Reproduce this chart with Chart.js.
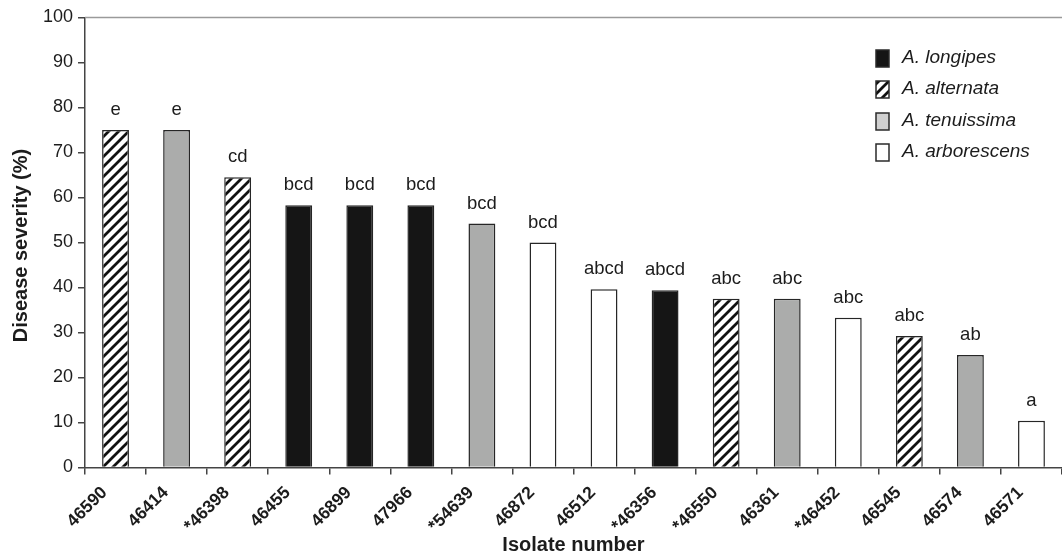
<!DOCTYPE html>
<html>
<head>
<meta charset="utf-8">
<script src="https://cdn.jsdelivr.net/npm/chart.js@4.4.1/dist/chart.umd.min.js"></script>
<style>
  html, body { margin: 0; padding: 0; background: #ffffff; }
  #wrap { width: 1062px; height: 556px; position: relative; }
</style>
</head>
<body>
<div id="wrap"><canvas id="chart" width="1062" height="556"></canvas></div>
<script>
// Isolates, in the order plotted
const isolates = ['46590', '46414', '*46398', '46455', '46899', '47966', '*54639', '46872',
                  '46512', '*46356', '*46550', '46361', '*46452', '46545', '46574', '46571'];
// Disease severity (%) per isolate
const severity = [75, 75, 64.5, 58.3, 58.3, 58.3, 54.2, 50, 39.6, 39.4, 37.5, 37.5, 33.3, 29.2, 25, 10.4];
// Species of each isolate (index into speciesNames)
const speciesOf = [1, 2, 1, 0, 0, 0, 2, 3, 3, 0, 1, 2, 3, 1, 2, 3];
// Significance group letters shown above the bars
const groups = ['e', 'e', 'cd', 'bcd', 'bcd', 'bcd', 'bcd', 'bcd', 'abcd', 'abcd', 'abc', 'abc', 'abc', 'abc', 'ab', 'a'];
// Legend entries
const speciesNames = ['A. longipes', 'A. alternata', 'A. tenuissima', 'A. arborescens'];
// Y axis ticks
const yTicks = [0, 10, 20, 30, 40, 50, 60, 70, 80, 90, 100];

const FONT = '"Liberation Sans", Arial, Helvetica, sans-serif';
const INK = '#1c1c1c';

// Diagonal hatch used for A. alternata
function makeHatch() {
  const c = document.createElement('canvas');
  c.width = 10; c.height = 10;
  const g = c.getContext('2d');
  g.fillStyle = '#ffffff';
  g.fillRect(0, 0, 10, 10);
  g.strokeStyle = '#111111';
  g.lineWidth = 2.8;
  g.lineCap = 'square';
  [-10, 0, 10].forEach(ox => {
    g.beginPath();
    g.moveTo(ox, 10);
    g.lineTo(ox + 10, 0);
    g.stroke();
  });
  const ctx = document.getElementById('chart').getContext('2d');
  return ctx.createPattern(c, 'repeat');
}
const hatch = makeHatch();
const barFills = ['#151515', hatch, '#abacab', '#ffffff'];
const legendFills = ['#151515', hatch, '#d0d0d0', '#ffffff'];

const extras = {
  id: 'extras',
  afterDatasetsDraw(chart) {
    const ctx = chart.ctx;
    const area = chart.chartArea;
    ctx.save();
    // top frame line
    ctx.strokeStyle = '#9a9a9a';
    ctx.lineWidth = 1.5;
    ctx.beginPath();
    ctx.moveTo(area.left, area.top);
    ctx.lineTo(chart.width, area.top);
    ctx.stroke();

    // group letters above bars
    ctx.fillStyle = INK;
    ctx.font = '18.5px ' + FONT;
    ctx.textAlign = 'center';
    ctx.textBaseline = 'middle';
    chart.getDatasetMeta(0).data.forEach((bar, i) => {
      ctx.fillText(groups[i], bar.x, bar.y - 20);
    });

    // legend
    const tops = [50, 81, 113, 144];
    speciesNames.forEach((name, i) => {
      ctx.fillStyle = legendFills[i];
      ctx.fillRect(876, tops[i], 13, 17);
      ctx.strokeStyle = '#2a2a2a';
      ctx.lineWidth = 1.5;
      ctx.strokeRect(876, tops[i], 13, 17);
      ctx.fillStyle = INK;
      ctx.font = 'italic 19px ' + FONT;
      ctx.textAlign = 'left';
      ctx.textBaseline = 'alphabetic';
      ctx.fillText(name, 902, tops[i] + 12.5);
    });

    // axis titles
    ctx.fillStyle = INK;
    ctx.font = 'bold 20px ' + FONT;
    ctx.textAlign = 'center';
    ctx.textBaseline = 'middle';
    ctx.fillText('Isolate number', (area.left + chart.width) / 2, 545);
    ctx.translate(21, (area.top + area.bottom) / 2 + 3);
    ctx.rotate(-Math.PI / 2);
    ctx.fillText('Disease severity (%)', 0, 0);
    ctx.restore();
  }
};

new Chart(document.getElementById('chart'), {
  type: 'bar',
  data: {
    labels: isolates,
    datasets: [{
      data: severity,
      backgroundColor: speciesOf.map(s => barFills[s]),
      borderColor: '#262626',
      borderWidth: 1.5,
      barPercentage: 0.44,
      categoryPercentage: 1.0
    }]
  },
  options: {
    responsive: false,
    animation: false,
    devicePixelRatio: 1,
    layout: { padding: { top: 17.5, right: 0, left: 0, bottom: 0 } },
    plugins: { legend: { display: false }, tooltip: { enabled: false }, title: { display: false } },
    scales: {
      x: {
        offset: true,
        grid: { offset: true, drawOnChartArea: false, drawTicks: true, tickLength: 7, color: '#444444', lineWidth: 1.5 },
        border: { color: '#444444', width: 1.5 },
        ticks: {
          autoSkip: false, minRotation: 45, maxRotation: 45, padding: 8, labelOffset: -11,
          color: INK, font: { family: FONT, size: 17.5, weight: 'bold' }
        },
        afterFit(scale) { scale.height = 88.5; }
      },
      y: {
        min: 0, max: 100,
        afterBuildTicks(scale) { scale.ticks = yTicks.map(v => ({ value: v })); },
        grid: { drawOnChartArea: false, drawTicks: true, tickLength: 7, color: '#444444', lineWidth: 1.5 },
        border: { color: '#444444', width: 1.5 },
        ticks: { padding: 5, color: INK, font: { family: FONT, size: 18 } },
        afterFit(scale) { scale.width = 85; }
      }
    }
  },
  plugins: [extras]
});
</script>
</body>
</html>
